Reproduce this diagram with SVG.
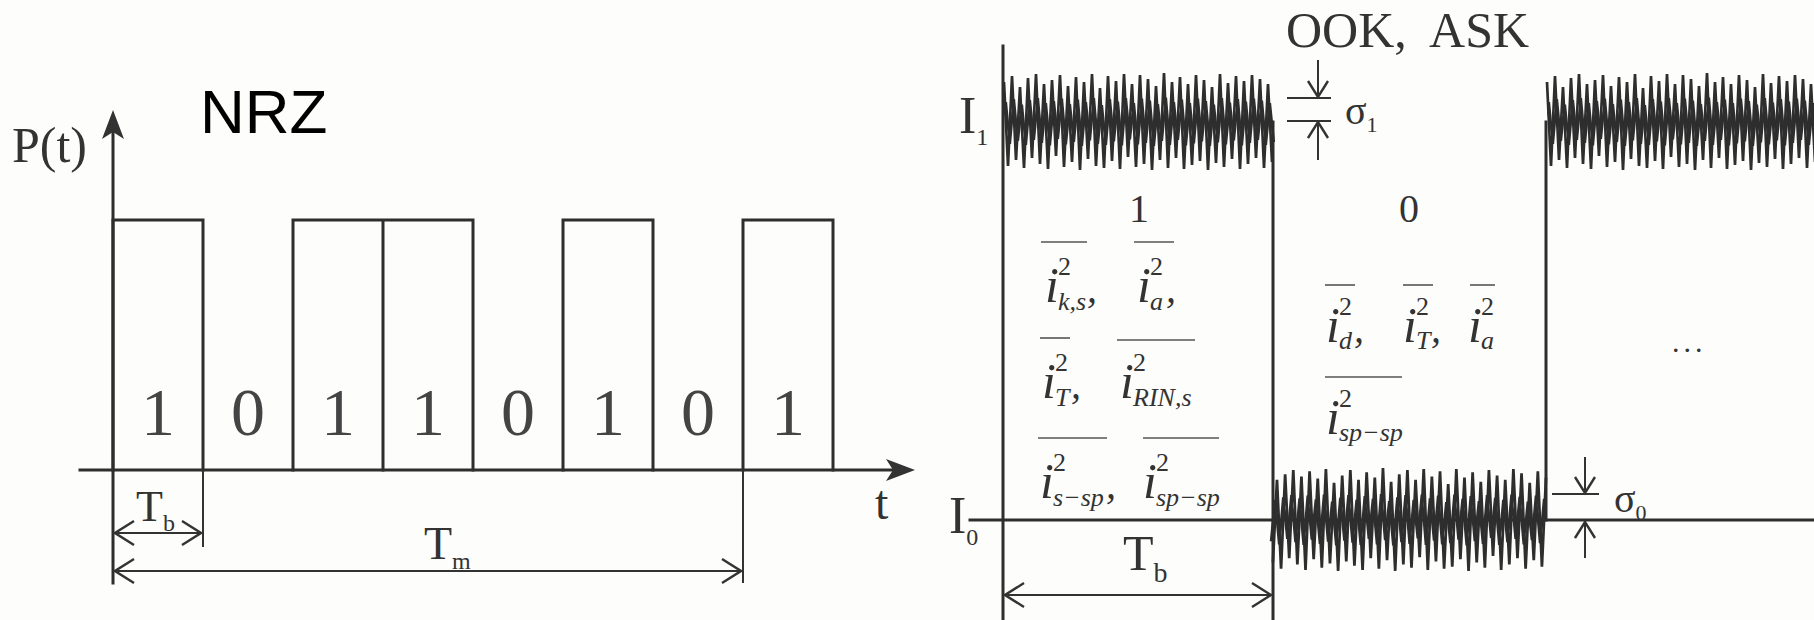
<svg xmlns="http://www.w3.org/2000/svg" xmlns:xlink="http://www.w3.org/1999/xlink" width="1814" height="620" viewBox="0 0 1814 620">
<style>
.ln{stroke:#2e2e2e;stroke-width:3;fill:none;stroke-linecap:square}
.thin{stroke:#333;stroke-width:2;fill:none}
.ser{font-family:"Liberation Serif","Times New Roman",serif;fill:#333}
.it{font-family:"Liberation Serif","Times New Roman",serif;font-style:italic;fill:#333}
.sup{font-family:"Liberation Serif","Times New Roman",serif;font-size:26px;fill:#333}
.sub{font-family:"Liberation Serif","Times New Roman",serif;font-style:italic;font-size:26px;fill:#333}
.bit{font-family:"Liberation Serif","Times New Roman",serif;font-size:68px;fill:#444;text-anchor:middle}
.ov{stroke:#555;stroke-width:1.6}
.zz{stroke:#2e2e2e;stroke-width:2.7;fill:none;stroke-linejoin:miter}
</style>
<defs>
<marker id="dimArrow" markerUnits="userSpaceOnUse" markerWidth="22" markerHeight="28" refX="20" refY="13" orient="auto-start-reverse" viewBox="0 0 22 28">
<path d="M1,1 L20,13 L1,25" fill="none" stroke="#333" stroke-width="2.4"/>
</marker>
<marker id="smArrow" markerUnits="userSpaceOnUse" markerWidth="20" markerHeight="24" refX="17" refY="11" orient="auto" viewBox="0 0 20 24">
<path d="M1,1 L17,11 L1,21" fill="none" stroke="#333" stroke-width="2.4"/>
</marker>
<path id="zz" d="M0,-40 L4,44 8,-46 12,38 16,-35 20,46 24,-44 28,36 32,-48 36,42 40,-38 44,47 48,-42 52,34 56,-47 60,45 64,-36 68,40 72,-45 76,48 80,-40 84,37 88,-48 92,44 96,-34 100,46 104,-46 108,39 112,-41 116,47 120,-48 124,35 128,-38 132,45 136,-47 140,42 144,-43 148,48 152,-36 156,38 160,-49 164,46 168,-40 172,36 176,-45 180,47 184,-38 188,43 192,-47 196,39 200,-42 204,48 208,-35 212,41 216,-48 220,45 224,-39 228,37 232,-46 236,47 240,-41 244,42 248,-47 252,36 256,-43 260,46 264,-38 268,40"/>
<g id="band">
<use xlink:href="#zz" href="#zz" class="zz"/>
<use xlink:href="#zz" href="#zz" class="zz" transform="translate(2,0) scale(1,0.5)" style="stroke-width:2.2"/>
<use xlink:href="#zz" href="#zz" class="zz" transform="translate(1,0) scale(1,0.25)" style="stroke-width:2"/>
</g>
</defs>
<rect width="1814" height="620" fill="#fdfdfb"/>

<!-- LEFT: NRZ -->
<g id="nrz-title"><text x="200" y="133" font-family="Liberation Sans, Arial, sans-serif" font-size="62" fill="#000">NRZ</text></g>

<g id="left-axes">
<line class="ln" x1="113" y1="583" x2="113" y2="125"/>
<polygon points="113,110 102,139 113,132 124,139" fill="#333"/>
<line class="ln" x1="80" y1="470" x2="900" y2="470"/>
<polygon points="915,470 886,459 893,470 886,481" fill="#333"/>
<text class="ser" x="12" y="162" font-size="50">P(t)</text>
<text class="ser" x="875" y="519" font-size="48">t</text>
</g>

<g id="pulses">
<path class="ln" d="M113,470 V220 H203 V470 M293,470 V220 H473 V470 M383,220 V470 M563,470 V220 H653 V470 M743,470 V220 H833 V470"/>
</g>

<g id="bit-labels">
<text class="bit" x="158" y="435">1</text>
<text class="bit" x="248" y="435">0</text>
<text class="bit" x="338" y="435">1</text>
<text class="bit" x="428" y="435">1</text>
<text class="bit" x="518" y="435">0</text>
<text class="bit" x="608" y="435">1</text>
<text class="bit" x="698" y="435">0</text>
<text class="bit" x="788" y="435">1</text>
</g>

<g id="left-dimensions">
<line class="thin" x1="203" y1="470" x2="203" y2="547"/>
<line class="thin" x1="743" y1="470" x2="743" y2="583"/>
<text class="ser" x="136" y="521" font-size="44">T<tspan font-size="24" dy="10">b</tspan></text>
<text class="ser" x="424" y="559" font-size="46">T<tspan font-size="24" dy="10">m</tspan></text>
</g>

<!-- RIGHT: OOK, ASK -->
<g id="ook-title"><text class="ser" x="1286" y="47" font-size="50" xml:space="preserve">OOK,  ASK</text></g>

<g id="right-axes">
<line class="ln" x1="1003" y1="46" x2="1003" y2="620"/>
<line class="ln" x1="970" y1="520" x2="1814" y2="520"/>
<line class="ln" x1="1273" y1="122" x2="1273" y2="620"/>
<line class="ln" x1="1546" y1="122" x2="1546" y2="520"/>
<text class="ser" x="959" y="133" font-size="52">I<tspan font-size="24" dy="12">1</tspan></text>
<text class="ser" x="949" y="533" font-size="52">I<tspan font-size="24" dy="12">0</tspan></text>
</g>

<g id="noise">
<g transform="translate(1004,122)"><use xlink:href="#band" href="#band"/></g>
<g transform="translate(1546,520) scale(-1.019,1.06)"><use xlink:href="#band" href="#band"/></g>
<g transform="translate(1547,122)"><use xlink:href="#band" href="#band"/></g>
</g>

<g id="sigma1">
<line class="thin" x1="1287" y1="98" x2="1331" y2="98"/>
<line class="thin" x1="1287" y1="121" x2="1331" y2="121"/>
<text class="ser" x="1345" y="124" font-size="40">σ<tspan font-size="22" dy="8">1</tspan></text>
</g>

<g id="sigma0">
<line class="thin" x1="1552" y1="494" x2="1599" y2="494"/>
<text class="ser" x="1614" y="512" font-size="40">σ<tspan font-size="22" dy="8">0</tspan></text>
</g>

<g id="bit-values">
<text class="ser" x="1139" y="222" font-size="40" text-anchor="middle">1</text>
<text class="ser" x="1409" y="222" font-size="40" text-anchor="middle">0</text>
<text class="ser" x="1672" y="352" font-size="30" letter-spacing="4">...</text>
</g>

<g id="noise-terms-1">
<line class="ov" x1="1041" y1="242" x2="1087" y2="242"/>
<line class="ov" x1="1134" y1="242" x2="1174" y2="242"/>
<text class="it" x="1045" y="302" font-size="50">i</text><text class="sup" x="1058" y="275">2</text><text class="sub" x="1058" y="310">k,s</text><text class="it" x="1087" y="302" font-size="40">,</text>
<text class="it" x="1137" y="302" font-size="50">i</text><text class="sup" x="1150" y="275">2</text><text class="sub" x="1150" y="310">a</text><text class="it" x="1166" y="302" font-size="40">,</text>
<line class="ov" x1="1040" y1="338" x2="1070" y2="338"/>
<line class="ov" x1="1117" y1="340" x2="1195" y2="340"/>
<text class="it" x="1042" y="398" font-size="50">i</text><text class="sup" x="1055" y="371">2</text><text class="sub" x="1055" y="406">T</text><text class="it" x="1071" y="398" font-size="40">,</text>
<text class="it" x="1120" y="398" font-size="50">i</text><text class="sup" x="1133" y="371">2</text><text class="sub" x="1133" y="406">RIN,s</text>
<line class="ov" x1="1038" y1="438" x2="1107" y2="438"/>
<line class="ov" x1="1143" y1="438" x2="1219" y2="438"/>
<text class="it" x="1040" y="498" font-size="50">i</text><text class="sup" x="1053" y="471">2</text><text class="sub" x="1053" y="506">s−sp</text><text class="it" x="1106" y="498" font-size="40">,</text>
<text class="it" x="1143" y="498" font-size="50">i</text><text class="sup" x="1156" y="471">2</text><text class="sub" x="1156" y="506">sp−sp</text>
</g>

<g id="noise-terms-0">
<line class="ov" x1="1325" y1="285" x2="1355" y2="285"/>
<line class="ov" x1="1403" y1="285" x2="1433" y2="285"/>
<line class="ov" x1="1470" y1="285" x2="1495" y2="285"/>
<text class="it" x="1326" y="342" font-size="50">i</text><text class="sup" x="1339" y="315">2</text><text class="sub" x="1339" y="349">d</text><text class="it" x="1354" y="342" font-size="40">,</text>
<text class="it" x="1403" y="342" font-size="50">i</text><text class="sup" x="1416" y="315">2</text><text class="sub" x="1416" y="349">T</text><text class="it" x="1431" y="342" font-size="40">,</text>
<text class="it" x="1468" y="342" font-size="50">i</text><text class="sup" x="1481" y="315">2</text><text class="sub" x="1481" y="349">a</text>
<line class="ov" x1="1325" y1="377" x2="1402" y2="377"/>
<text class="it" x="1326" y="434" font-size="50">i</text><text class="sup" x="1339" y="407">2</text><text class="sub" x="1339" y="441">sp−sp</text>
</g>

<g id="connectors">
<line class="thin" x1="115" y1="533" x2="201" y2="533" marker-start="url(#dimArrow)" marker-end="url(#dimArrow)"/>
<line class="thin" x1="115" y1="571" x2="741" y2="571" marker-start="url(#dimArrow)" marker-end="url(#dimArrow)"/>
<line class="thin" x1="1005" y1="595" x2="1271" y2="595" marker-start="url(#dimArrow)" marker-end="url(#dimArrow)"/>
<text class="ser" x="1123" y="570" font-size="50">T<tspan font-size="28" dy="12">b</tspan></text>
<line class="thin" x1="1318" y1="60" x2="1318" y2="97" marker-end="url(#smArrow)"/>
<line class="thin" x1="1318" y1="160" x2="1318" y2="122" marker-end="url(#smArrow)"/>
<line class="thin" x1="1585" y1="457" x2="1585" y2="493" marker-end="url(#smArrow)"/>
<line class="thin" x1="1585" y1="558" x2="1585" y2="522" marker-end="url(#smArrow)"/>
</g>
</svg>
